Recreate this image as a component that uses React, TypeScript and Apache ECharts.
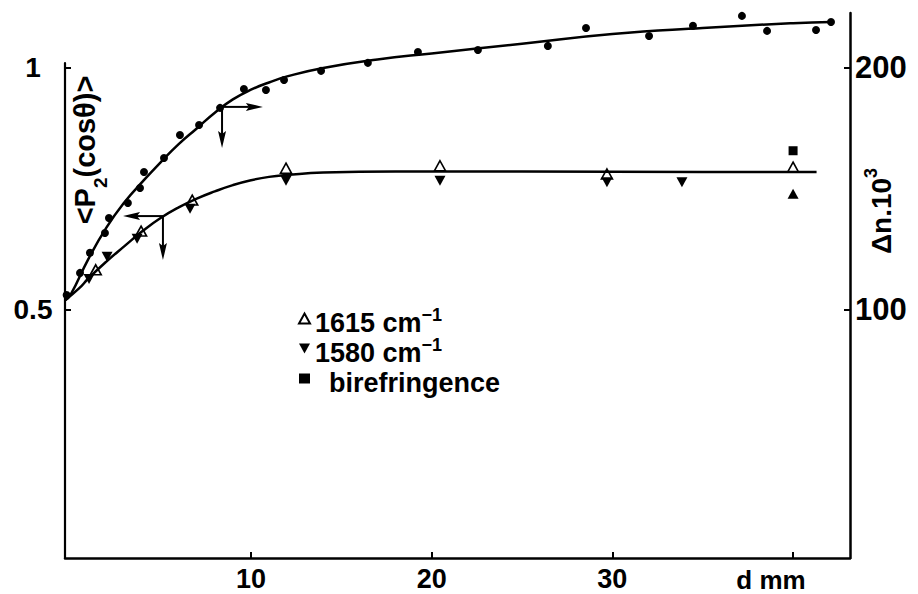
import React, { useEffect, useRef } from 'react';
import * as echarts from 'echarts';

// ---- axis ticks / labels ----
const xTickValues = [10, 20, 30, 40];
const xLabelValues = [10, 20, 30];
const leftTickValues = [0.5, 1];
const rightTickValues = [100, 200];

// ---- data ----
// birefringence Δn·10^3 (right axis), filled circles
const dnDots = [
  [-0.2, 106.2], [0.54, 115.3], [1.09, 123.6], [1.92, 131.8], [2.14, 138.0],
  [3.19, 144.2], [3.86, 150.4], [4.08, 157.0], [5.19, 162.8], [6.07, 172.3],
  [7.13, 176.4], [8.29, 183.5], [9.61, 191.3], [10.83, 190.9], [11.83, 195.0],
  [13.88, 198.8], [16.47, 202.1], [19.24, 206.6], [22.56, 207.4], [26.43, 209.1],
  [28.54, 216.5], [32.03, 213.2], [34.46, 217.4], [37.17, 221.5], [38.56, 215.3],
  [41.27, 215.7], [42.1, 219.0],
];
// fitted curve through the Δn points
const dnCurve = [
  [-0.29, 104], [0, 106], [1, 121], [2, 134], [3, 144.5], [4, 153], [5, 161],
  [6, 168.5], [7, 175], [8, 181.5], [9, 187], [10, 191], [11, 194], [12, 196.5],
  [14, 200], [17, 203.5], [20, 206], [25, 210], [30, 214], [35, 216.5], [40, 218.5],
  [42.1, 219],
];
// fitted curve through <P2(cosθ)> (left axis)
const p2Curve = [
  [-0.29, 0.52], [0.5, 0.545], [1, 0.565], [2, 0.6], [3, 0.632], [4, 0.663],
  [5, 0.69], [6, 0.712], [7, 0.73], [8, 0.745], [9, 0.758], [10, 0.768],
  [11, 0.775], [12, 0.779], [14, 0.784], [18, 0.786], [25, 0.786], [35, 0.785],
  [41.3, 0.785],
];
const band1615 = [
  [1.41, 0.583], [3.92, 0.663], [6.75, 0.727], [11.94, 0.793], [20.46, 0.798],
  [29.7, 0.781], [40.0, 0.795],
];
const band1580 = [
  [1.04, 0.564], [2.04, 0.61], [3.7, 0.647], [6.63, 0.709], [11.94, 0.767],
  [20.46, 0.767], [29.7, 0.764], [33.85, 0.764],
];
const band1580Up = [[40.0, 0.74]];
const birefringence = [[40.0, 0.829]];
// arrows [x0, y0, x1, y1]
const arrowsRight = [[8.4, 183.9, 10.66, 183.9], [8.4, 183.9, 8.4, 166.9]];
const arrowsLeft = [[5.13, 0.694, 2.92, 0.694], [5.13, 0.694, 5.13, 0.603]];

const FONT = 'Liberation Sans, Arial, Helvetica, sans-serif';

function arrowRender(params: any, api: any) {
  const a = api.coord([api.value(0), api.value(1)]);
  const b = api.coord([api.value(2), api.value(3)]);
  const dx = b[0] - a[0];
  const dy = b[1] - a[1];
  const len = Math.sqrt(dx * dx + dy * dy) || 1;
  const ux = dx / len;
  const uy = dy / len;
  const headLen = 17;
  const headHalf = 4;
  const bx = b[0] - ux * headLen;
  const by = b[1] - uy * headLen;
  return {
    type: 'group',
    children: [
      {
        type: 'line',
        shape: { x1: a[0], y1: a[1], x2: bx + ux * 3, y2: by + uy * 3 },
        style: { stroke: '#000', lineWidth: 2 },
      },
      {
        type: 'polygon',
        shape: {
          points: [
            [b[0], b[1]],
            [bx - uy * headHalf, by + ux * headHalf],
            [bx + ux * 3, by + uy * 3],
            [bx + uy * headHalf, by - ux * headHalf],
          ],
        },
        style: { fill: '#000' },
      },
    ],
  };
}

export default function App() {
  const ref = useRef<HTMLDivElement>(null);

  useEffect(() => {
    const chart = echarts.init(ref.current as HTMLDivElement, null, { renderer: 'svg' });

    const axisLabelBase = { color: '#000', fontFamily: FONT, fontWeight: 'bold' as const };

    const legendRich = {
      a: { fontSize: 27, lineHeight: 25, padding: [3, 0, 0, 0], verticalAlign: 'top', fontWeight: 'bold', fontFamily: FONT, color: '#000' },
      s: { fontSize: 18, lineHeight: 18, verticalAlign: 'top', fontWeight: 'bold', fontFamily: FONT, color: '#000' },
      b: { fontSize: 27, lineHeight: 25, padding: [3, 0, 0, 14], verticalAlign: 'top', fontWeight: 'bold', fontFamily: FONT, color: '#000' },
    };

    const option: any = {
      animation: false,
      backgroundColor: '#fff',
      grid: [
        { left: 65, right: 68, top: 63, bottom: 36, outerBoundsMode: 'none', containLabel: false },
        { left: 65, right: 68, top: 13, bottom: 36, outerBoundsMode: 'none', containLabel: false },
      ],
      xAxis: [
        {
          type: 'value',
          gridIndex: 0,
          min: -0.29,
          max: 43.15,
          axisLine: { show: true, onZero: false, lineStyle: { color: '#000', width: 2.5 } },
          axisTick: { show: true, inside: true, length: 6, customValues: xTickValues, lineStyle: { color: '#000', width: 2 } },
          axisLabel: { ...axisLabelBase, fontSize: 27, margin: 7, customValues: xLabelValues },
          splitLine: { show: false },
        },
        {
          type: 'value',
          gridIndex: 1,
          min: -0.29,
          max: 43.15,
          show: false,
        },
      ],
      yAxis: [
        {
          type: 'value',
          gridIndex: 0,
          position: 'left',
          min: -0.0125,
          max: 1.0103,
          axisLine: { show: true, onZero: false, lineStyle: { color: '#000', width: 2.2 } },
          axisTick: { show: true, inside: true, length: 6, customValues: leftTickValues, lineStyle: { color: '#000', width: 2 } },
          axisLabel: {
            ...axisLabelBase,
            fontSize: 28,
            margin: 32,
            align: 'center',
            customValues: leftTickValues,
            formatter: (v: number) => (v === 1 ? '1' : String(v)),
          },
          splitLine: { show: false },
        },
        {
          type: 'value',
          gridIndex: 1,
          position: 'right',
          min: -2.5,
          max: 222.7,
          axisLine: { show: true, onZero: false, lineStyle: { color: '#000', width: 2.5 } },
          axisTick: { show: true, inside: true, length: 6, customValues: rightTickValues, lineStyle: { color: '#000', width: 2 } },
          axisLabel: { ...axisLabelBase, fontSize: 31, margin: 5, customValues: rightTickValues },
          splitLine: { show: false },
        },
      ],
      legend: {
        orient: 'vertical',
        left: 298,
        top: 306,
        padding: 0,
        itemGap: 0,
        itemWidth: 11,
        itemHeight: 10,
        selectedMode: false,
        data: [
          { name: '1615 cm-1', icon: 'triangle' },
          { name: '1580 cm-1', icon: 'path://M0,0L10,0L5,9Z', itemStyle: { color: '#000', opacity: 1 } },
          { name: 'birefringence', icon: 'rect', itemStyle: { color: '#000', opacity: 1 } },
        ],
        textStyle: { color: '#000', fontFamily: FONT, fontWeight: 'bold', fontSize: 27, rich: legendRich },
        formatter: (name: string) => {
          if (name === '1615 cm-1') return '{a|1615 cm}{s|−1}';
          if (name === '1580 cm-1') return '{a|1580 cm}{s|−1}';
          return '{b|birefringence}';
        },
      },
      graphic: [
        {
          type: 'text',
          x: 85,
          y: 150,
          rotation: Math.PI / 2,
          style: {
            text: '{a|<P}{b|2}{a|(cosθ)>}',
            align: 'center',
            verticalAlign: 'middle',
            fill: '#000',
            rich: {
              a: { fontSize: 29, lineHeight: 29, verticalAlign: 'top', fontWeight: 'bold', fontFamily: FONT, fill: '#000', color: '#000' },
              b: { fontSize: 19, lineHeight: 19, verticalAlign: 'top', padding: [20, 0, 0, 0], fontWeight: 'bold', fontFamily: FONT, fill: '#000', color: '#000' },
            },
          },
        },
        {
          type: 'text',
          x: 876,
          y: 211,
          rotation: Math.PI / 2,
          style: {
            text: '{a|Δn.10}{s|3}',
            align: 'center',
            verticalAlign: 'middle',
            fill: '#000',
            rich: {
              a: { fontSize: 28, lineHeight: 28, verticalAlign: 'top', padding: [5, 0, 0, 0], fontWeight: 'bold', fontFamily: FONT, fill: '#000', color: '#000' },
              s: { fontSize: 18, lineHeight: 18, verticalAlign: 'top', fontWeight: 'bold', fontFamily: FONT, fill: '#000', color: '#000' },
            },
          },
        },
        {
          type: 'text',
          x: 771,
          y: 580,
          style: {
            text: 'd mm',
            align: 'center',
            verticalAlign: 'middle',
            fill: '#000',
            lineHeight: 24,
            font: `bold 26px ${FONT}`,
          },
        },
      ],
      series: [
        {
          name: 'curve Δn',
          type: 'line',
          xAxisIndex: 1,
          yAxisIndex: 1,
          data: dnCurve,
          smooth: true,
          symbol: 'none',
          lineStyle: { color: '#000', width: 2.5 },
          silent: true,
          z: 2,
        },
        {
          name: 'Δn',
          type: 'scatter',
          xAxisIndex: 1,
          yAxisIndex: 1,
          data: dnDots,
          symbol: 'circle',
          symbolSize: 8,
          itemStyle: { color: '#000', opacity: 1 },
          silent: true,
          z: 3,
        },
        {
          name: 'curve P2',
          type: 'line',
          xAxisIndex: 0,
          yAxisIndex: 0,
          data: p2Curve,
          smooth: true,
          symbol: 'none',
          lineStyle: { color: '#000', width: 2.5 },
          silent: true,
          z: 2,
        },
        {
          name: '1615 cm-1',
          type: 'scatter',
          xAxisIndex: 0,
          yAxisIndex: 0,
          data: band1615,
          symbol: 'triangle',
          symbolSize: [11, 10],
          itemStyle: { color: 'rgba(255,255,255,0)', borderColor: '#000', borderWidth: 1.6, opacity: 1 },
          silent: true,
          z: 3,
        },
        {
          name: '1580 cm-1',
          type: 'scatter',
          xAxisIndex: 0,
          yAxisIndex: 0,
          data: [
            ...band1580.map((p) => ({ value: p })),
            ...band1580Up.map((p) => ({ value: p, symbolRotate: 0 })),
          ],
          symbol: 'triangle',
          symbolRotate: 180,
          symbolSize: [11, 10],
          itemStyle: { color: '#000', opacity: 1 },
          silent: true,
          z: 3,
        },
        {
          name: 'birefringence',
          type: 'scatter',
          xAxisIndex: 0,
          yAxisIndex: 0,
          data: birefringence,
          symbol: 'rect',
          symbolSize: 9,
          itemStyle: { color: '#000', opacity: 1 },
          silent: true,
          z: 3,
        },
        {
          name: 'arrows Δn',
          type: 'custom',
          xAxisIndex: 1,
          yAxisIndex: 1,
          data: arrowsRight,
          encode: { x: [0, 2], y: [1, 3] },
          renderItem: arrowRender,
          silent: true,
          clip: false,
          z: 4,
        },
        {
          name: 'arrows P2',
          type: 'custom',
          xAxisIndex: 0,
          yAxisIndex: 0,
          data: arrowsLeft,
          encode: { x: [0, 2], y: [1, 3] },
          renderItem: arrowRender,
          silent: true,
          clip: false,
          z: 4,
        },
      ],
    };

    chart.setOption(option);
    return () => {
      chart.dispose();
    };
  }, []);

  return (
    <div
      ref={ref}
      style={{ position: 'fixed', left: 0, top: 0, width: 918, height: 594, background: '#fff' }}
    />
  );
}
